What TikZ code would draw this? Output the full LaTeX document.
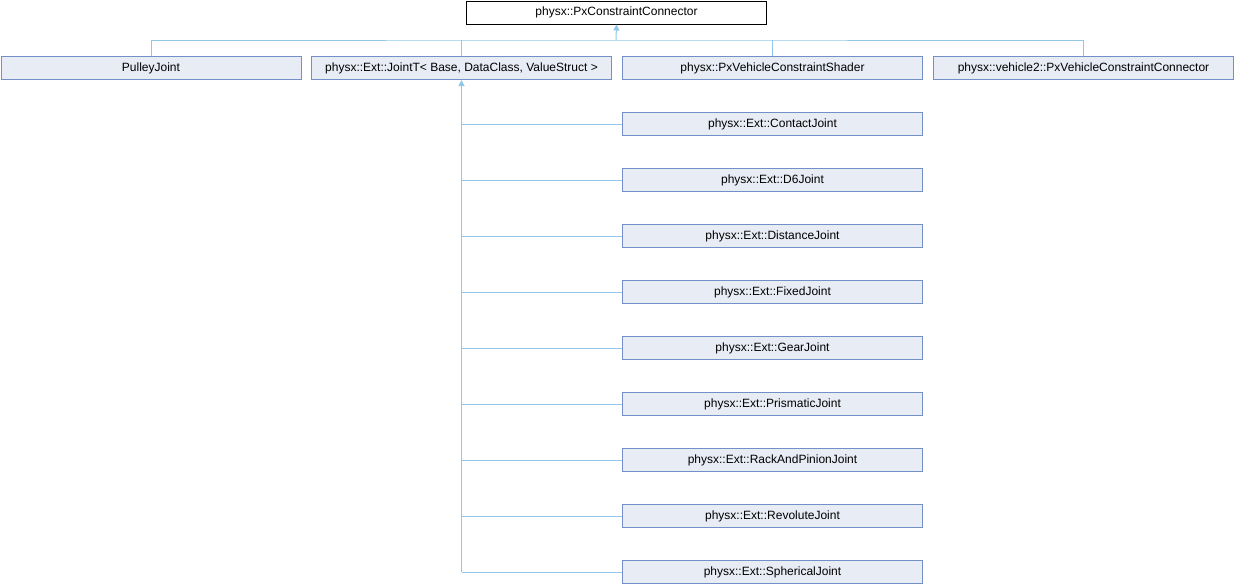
\documentclass[tikz,border=0pt]{standalone}
\usepackage{fontspec}
\setmainfont{Liberation Sans}
\usetikzlibrary{arrows.meta}
\definecolor{boxfill}{RGB}{232,236,244}
\definecolor{boxdraw}{RGB}{116,142,200}
\definecolor{linkc}{RGB}{145,200,232}
\begin{document}
\begin{tikzpicture}[x=1pt,y=-1pt,
  cls/.style={draw=boxdraw,fill=boxfill,line width=1pt,minimum width=300pt,minimum height=23pt,inner sep=0pt,font=\fontsize{12pt}{14pt}\selectfont,anchor=north west},
  rootcls/.style={cls,draw=black,fill=white},
  link/.style={draw=linkc,line width=1pt},
  inh/.style={link,-{Triangle[width=6pt,length=6pt]}}]
\useasboundingbox (0,0) rectangle (1234,584);
\node[rootcls] (root) at (466,0.5) {physx::PxConstraintConnector};
\node[cls] (pulley) at (0.5,56) {PulleyJoint};
\node[cls] (jointt) at (311,56) {physx::Ext::JointT< Base, DataClass, ValueStruct >};
\node[cls] (shader) at (622,56) {physx::PxVehicleConstraintShader};
\node[cls] (veh) at (933,56) {physx::vehicle2::PxVehicleConstraintConnector};
\coordinate (bus) at (616,40);
\draw[inh] (bus) -- (root.south);
\draw[link] (pulley.north) |- (bus) -| (veh.north);
\draw[link] (jointt.north) -- (jointt.north |- bus);
\draw[link] (shader.north) -- (shader.north |- bus);
\foreach \n/\t [count=\i] in {contact/ContactJoint,dsix/D6Joint,distance/DistanceJoint,fixed/FixedJoint,gear/GearJoint,prismatic/PrismaticJoint,rack/RackAndPinionJoint,revolute/RevoluteJoint,spherical/SphericalJoint}{
  \node[cls] (\n) at (622,{56+56*\i}) {physx::Ext::\t};
  \draw[link] (\n.west) -- (\n.west -| jointt.south);
}
\draw[inh] (spherical.west -| jointt.south) -- (jointt.south);
\end{tikzpicture}
\end{document}
